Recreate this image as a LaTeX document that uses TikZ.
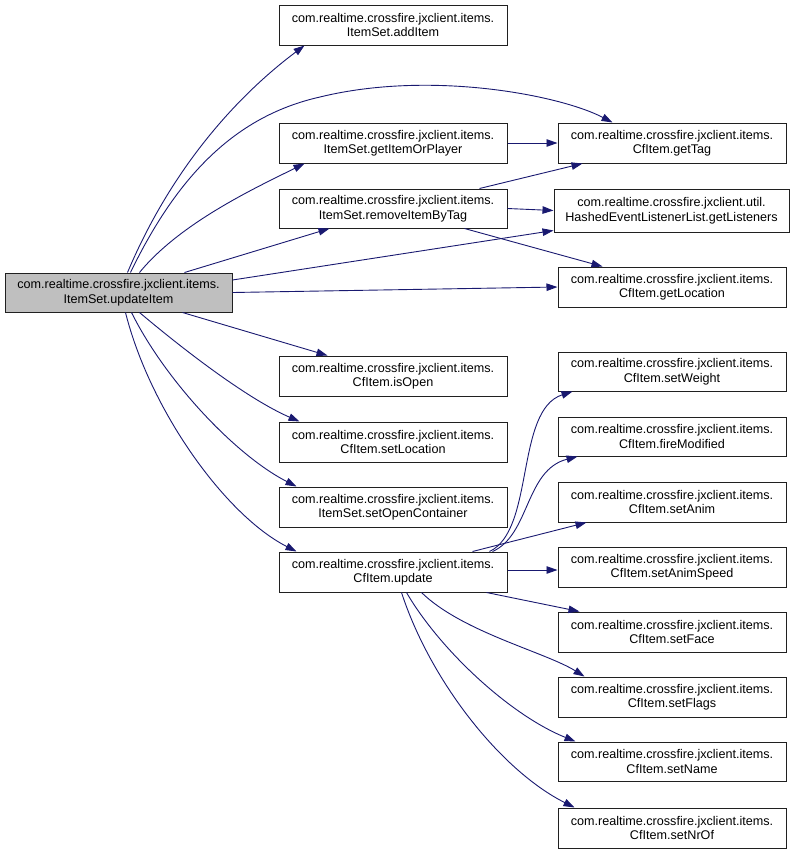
\documentclass[tikz,border=0pt]{standalone}
\usepackage{fontspec}
\setmainfont{Liberation Sans}
\usetikzlibrary{arrows.meta}
\definecolor{edgeblue}{HTML}{191970}
\definecolor{boxgray}{HTML}{BFBFBF}
\definecolor{boxline}{HTML}{202020}
\tikzset{
  box/.style={draw=boxline, line width=1pt, fill=white, inner sep=0pt, align=center,
    font=\fontsize{12.6}{14.5}\selectfont},
  rootbox/.style={box, fill=boxgray},
  edge/.style={draw=edgeblue, line width=0.9pt, -{Triangle[length=11pt,width=7.5pt]}}
}
\newcommand\mkbox[7]{%
  \node[#7, minimum width={(#4-#2)*1pt}, minimum height={(#5-#3)*1pt}]
    (#1) at ({(#2+#4)/2},{(#3+#5)/2}) {#6};}
\begin{document}
\begin{tikzpicture}[x=1pt,y=-1pt]
\useasboundingbox (0,0) rectangle (795,855);
\mkbox{updateItem}{5}{273}{232}{312}{com.realtime.crossfire.jxclient.items.\\ItemSet.updateItem}{rootbox}
\mkbox{addItem}{279}{5}{507}{45}{com.realtime.crossfire.jxclient.items.\\ItemSet.addItem}{box}
\mkbox{getItemOrPlayer}{279}{123}{507}{163}{com.realtime.crossfire.jxclient.items.\\ItemSet.getItemOrPlayer}{box}
\mkbox{removeItemByTag}{279}{189}{507}{228}{com.realtime.crossfire.jxclient.items.\\ItemSet.removeItemByTag}{box}
\mkbox{getTag}{558}{123}{786}{163}{com.realtime.crossfire.jxclient.items.\\CfItem.getTag}{box}
\mkbox{getListeners}{554}{189}{789}{232}{com.realtime.crossfire.jxclient.util.\\HashedEventListenerList.getListeners}{box}
\mkbox{getLocation}{558}{267}{786}{307}{com.realtime.crossfire.jxclient.items.\\CfItem.getLocation}{box}
\mkbox{isOpen}{279}{356}{507}{396}{com.realtime.crossfire.jxclient.items.\\CfItem.isOpen}{box}
\mkbox{setLocation}{279}{422}{507}{462}{com.realtime.crossfire.jxclient.items.\\CfItem.setLocation}{box}
\mkbox{setOpenContainer}{279}{487}{507}{527}{com.realtime.crossfire.jxclient.items.\\ItemSet.setOpenContainer}{box}
\mkbox{update}{279}{552}{507}{592}{com.realtime.crossfire.jxclient.items.\\CfItem.update}{box}
\mkbox{setWeight}{558}{352}{786}{391}{com.realtime.crossfire.jxclient.items.\\CfItem.setWeight}{box}
\mkbox{fireModified}{558}{417}{786}{456}{com.realtime.crossfire.jxclient.items.\\CfItem.fireModified}{box}
\mkbox{setAnim}{558}{482}{786}{522}{com.realtime.crossfire.jxclient.items.\\CfItem.setAnim}{box}
\mkbox{setAnimSpeed}{558}{547}{786}{587}{com.realtime.crossfire.jxclient.items.\\CfItem.setAnimSpeed}{box}
\mkbox{setFace}{558}{612}{786}{652}{com.realtime.crossfire.jxclient.items.\\CfItem.setFace}{box}
\mkbox{setFlags}{558}{677}{786}{717}{com.realtime.crossfire.jxclient.items.\\CfItem.setFlags}{box}
\mkbox{setName}{558}{742}{786}{781}{com.realtime.crossfire.jxclient.items.\\CfItem.setName}{box}
\mkbox{setNrOf}{558}{808}{786}{848}{com.realtime.crossfire.jxclient.items.\\CfItem.setNrOf}{box}

% edges from updateItem (top)
\draw[edge] ([xshift=123pt]updateItem.north west) .. controls (175,160) and (245,90) .. ([xshift=26pt]addItem.south west);
\draw[edge] ([xshift=126pt]updateItem.north west) .. controls (180,170) and (240,115) .. (320,97) .. controls (430,70) and (560,95) .. ([xshift=55pt]getTag.north west);
\draw[edge] ([xshift=135pt]updateItem.north west) .. controls (180,223) and (255,188) .. ([xshift=26pt]getItemOrPlayer.south west);
\draw[edge] ([xshift=180pt]updateItem.north west) -- ([xshift=51pt]removeItemByTag.south west);
% right side
\draw[edge] ([yshift=12.5pt]updateItem.east) -- ([yshift=2pt]getListeners.south west);
\draw[edge] (updateItem.east) -- (getLocation.west);
% bottom
\draw[edge] ([xshift=178pt]updateItem.south west) -- ([xshift=49pt]isOpen.north west);
\draw[edge] ([xshift=135pt]updateItem.south west) .. controls (190,355) and (250,400) .. ([xshift=21pt]setLocation.north west);
\draw[edge] ([xshift=127pt]updateItem.south west) .. controls (165,380) and (235,455) .. ([xshift=18pt]setOpenContainer.north west);
\draw[edge] ([xshift=121pt]updateItem.south west) .. controls (150,410) and (225,515) .. ([xshift=18pt]update.north west);

% second level
\draw[edge] (getItemOrPlayer.east) -- (getTag.west);
\draw[edge] ([xshift=201pt]removeItemByTag.north west) -- ([xshift=25pt]getTag.south west);
\draw[edge] (removeItemByTag.east) -- (getListeners.west);
\draw[edge] ([xshift=186pt]removeItemByTag.south west) -- ([xshift=45pt]getLocation.north west);

\draw[edge] ([xshift=211pt]update.north west) .. controls (535,530) and (515,410) .. ([xshift=15pt]setWeight.south west);
\draw[edge] ([xshift=214pt]update.north west) .. controls (530,535) and (525,470) .. ([xshift=20pt]fireModified.south west);
\draw[edge] ([xshift=194pt]update.north west) -- ([xshift=29pt]setAnim.south west);
\draw[edge] ([yshift=2pt]update.east) -- ([yshift=-3pt]setAnimSpeed.west);
\draw[edge] ([xshift=208pt]update.south west) -- ([xshift=22pt]setFace.north west);
\draw[edge] ([xshift=143pt]update.south west) .. controls (462,632) and (545,652) .. ([xshift=27pt]setFlags.north west);
\draw[edge] ([xshift=128pt]update.south west) .. controls (440,650) and (510,715) .. ([xshift=18pt]setName.north west);
\draw[edge] ([xshift=123pt]update.south west) .. controls (430,680) and (500,770) .. ([xshift=17pt]setNrOf.north west);
\end{tikzpicture}
\end{document}
